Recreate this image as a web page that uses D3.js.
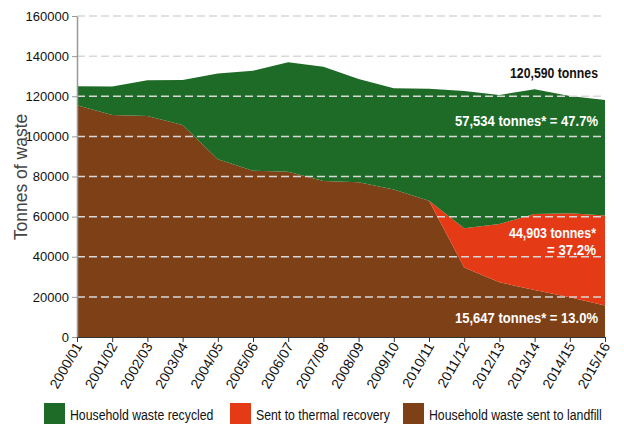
<!DOCTYPE html>
<meta charset="utf-8">
<style>
body { margin: 0; background: #fff; }
text { font-family: "Liberation Sans", Arial, sans-serif; }
.grid line { stroke: #d8d8d8; stroke-width: 1.5; stroke-dasharray: 8,4; }
.note { font-weight: bold; font-size: 15px; text-anchor: end; }
</style>
<svg width="624" height="425"></svg>
<script src="https://cdnjs.cloudflare.com/ajax/libs/d3/7.8.5/d3.min.js"></script>
<script>

var years = ["2000/01","2001/02","2002/03","2003/04","2004/05","2005/06","2006/07","2007/08",
             "2008/09","2009/10","2010/11","2011/12","2012/13","2013/14","2014/15","2015/16"];
var landfill = [115500,110700,110200,105700,88600,82900,82400,77800,77100,73500,67900,34700,27300,23400,19800,15647];
var thermal  = [0,0,0,0,0,0,0,0,0,0,0,19500,29000,37900,41900,44903];
var recycled = [9500,14100,17800,22400,42800,49800,54600,56900,51500,50500,55900,68400,64300,62200,58400,57534];
var yTicks = [0,20000,40000,60000,80000,100000,120000,140000,160000];

var series = [
  {key: "landfill", label: "Household waste sent to landfill", color: "#7e4016"},
  {key: "thermal", label: "Sent to thermal recovery", color: "#e53a16"},
  {key: "recycled", label: "Household waste recycled", color: "#1e6b27"}
];
var legendOrder = ["recycled", "thermal", "landfill"];

var svg = d3.select("svg");
var plotLeft = 77, plotRight = 605, plotTop = 16, plotBottom = 337;

var x = d3.scalePoint().domain(years).range([plotLeft, plotRight]);
var y = d3.scaleLinear().domain([0, 160000]).range([plotBottom, plotTop]);

// rows for the stack
var rows = years.map(function(yr, i) {
  return {year: yr, landfill: landfill[i], thermal: thermal[i], recycled: recycled[i]};
});
var stack = d3.stack().keys(series.map(function(s) { return s.key; }));
var layers = stack(rows);

var area = d3.area()
    .x(function(d) { return x(d.data.year); })
    .y0(function(d) { return y(d[0]); })
    .y1(function(d) { return y(d[1]); });

svg.append("g").selectAll("path")
    .data(layers)
    .enter().append("path")
    .attr("d", area)
    .attr("fill", function(d, i) { return series[i].color; });

// gridlines over the areas
svg.append("g").attr("class", "grid")
  .selectAll("line")
  .data(yTicks.filter(function(t) { return t > 0; }))
  .enter().append("line")
  .attr("x1", plotLeft).attr("x2", plotRight)
  .attr("y1", function(d) { return y(d); })
  .attr("y2", function(d) { return y(d); });

// y axis
var yAxis = svg.append("g")
    .attr("transform", "translate(" + plotLeft + ",0)")
    .call(d3.axisLeft(y).tickValues(yTicks).tickFormat(d3.format("d")).tickSize(5).tickSizeOuter(0));
yAxis.select(".domain").attr("stroke", "#999").attr("stroke-width", 1.5);
yAxis.selectAll(".tick line").attr("stroke", "#999");
yAxis.selectAll("text").attr("font-size", 13).attr("fill", "#111")
    .attr("font-family", "'Liberation Sans', sans-serif");

// x axis
var xAxis = svg.append("g")
    .attr("transform", "translate(0," + plotBottom + ")")
    .call(d3.axisBottom(x).tickSize(5).tickSizeOuter(0));
xAxis.select(".domain").attr("stroke", "#333");
xAxis.selectAll(".tick line").attr("stroke", "#333");
xAxis.selectAll("text")
    .attr("font-size", 14).attr("fill", "#111")
    .attr("font-family", "'Liberation Sans', sans-serif")
    .attr("text-anchor", "end")
    .attr("transform", "translate(3,3) rotate(-60)")
    .attr("dy", "0.35em").attr("y", 0).attr("x", -4);

// y label
svg.append("text")
    .attr("transform", "translate(27,177) rotate(-90)")
    .attr("text-anchor", "middle")
    .attr("font-family", "'Liberation Sans', sans-serif")
    .attr("font-size", 17.5)
    .attr("fill", "#444")
    .text("Tonnes of waste");

// annotations (condensed via textLength)
function note(px, py, txt, fill, w) {
  svg.append("text").attr("class", "note")
      .attr("x", px).attr("y", py).attr("fill", fill)
      .attr("textLength", w).attr("lengthAdjust", "spacingAndGlyphs")
      .text(txt);
}
note(598, 78, "120,590 tonnes", "#111", 88);
note(598, 126, "57,534 tonnes* = 47.7%", "#fff", 143);
note(596, 238, "44,903 tonnes*", "#fff", 87);
note(596, 255, "= 37.2%", "#fff", 49);
note(598, 323, "15,647 tonnes* = 13.0%", "#fff", 143);

// legend
var legendX = [44, 230, 403];
var leg = svg.append("g").selectAll("g")
    .data(legendOrder.map(function(k) { return series.find(function(s) { return s.key === k; }); }))
    .enter().append("g")
    .attr("transform", function(d, i) { return "translate(" + legendX[i] + ",403)"; });
leg.append("rect").attr("width", 21).attr("height", 21).attr("fill", function(d) { return d.color; });
leg.append("text")
    .attr("transform", "translate(26,17) scale(0.82,1)")
    .attr("font-size", 15).attr("fill", "#111")
    .text(function(d) { return d.label; });

</script>
